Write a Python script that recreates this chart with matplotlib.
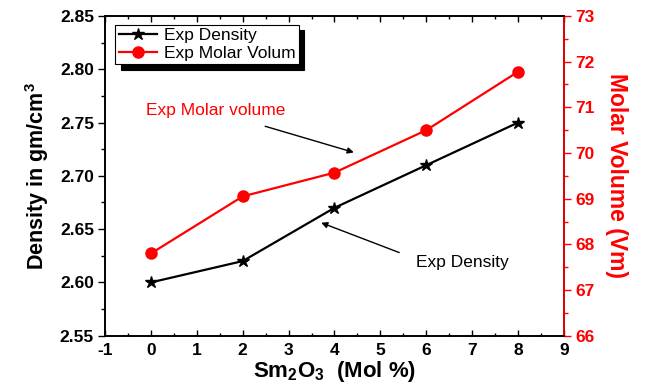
import matplotlib
matplotlib.use("Agg")
import matplotlib.pyplot as plt
from matplotlib.ticker import MultipleLocator

plt.rcParams['font.family'] = ['Liberation Sans', 'DejaVu Sans']
plt.rcParams['mathtext.fontset'] = 'custom'
plt.rcParams['mathtext.rm'] = 'Liberation Sans:bold'
plt.rcParams['mathtext.bf'] = 'Liberation Sans:bold'
plt.rcParams['mathtext.it'] = 'Liberation Sans:bold'
plt.rcParams['mathtext.default'] = 'bf'
plt.rcParams['axes.unicode_minus'] = False

sm2o3 = [0, 2, 4, 6, 8]
density = [2.60, 2.62, 2.67, 2.71, 2.75]
molar_volume = [67.8, 69.05, 69.57, 70.5, 71.78]

fig = plt.figure(figsize=(6.47, 3.87), dpi=100)
ax = fig.add_axes([0.1623, 0.1326, 0.7094, 0.8261])
ax2 = ax.twinx()

l1, = ax.plot(sm2o3, density, color='black', marker='*', markersize=9, lw=1.6,
              label='Exp Density')
l2, = ax2.plot(sm2o3, molar_volume, color='red', marker='o', markersize=8, lw=1.6,
               label='Exp Molar Volum')

ax.set_xlim(-1, 9)
ax.set_ylim(2.55, 2.85)
ax2.set_ylim(66, 73)

ax.xaxis.set_major_locator(MultipleLocator(1))
ax.xaxis.set_minor_locator(MultipleLocator(0.5))
ax.yaxis.set_major_locator(MultipleLocator(0.05))
ax.yaxis.set_minor_locator(MultipleLocator(0.025))
ax2.yaxis.set_major_locator(MultipleLocator(1))
ax2.yaxis.set_minor_locator(MultipleLocator(0.5))

ax.tick_params(axis='x', which='both', direction='in', top=True, labelsize=12.5, pad=5)
ax.tick_params(axis='x', which='major', length=4, width=1)
ax.tick_params(axis='x', which='minor', length=2.5, width=1)
ax.tick_params(axis='y', which='major', direction='out', length=5, width=1,
               labelsize=12.5, pad=3)
ax.tick_params(axis='y', which='minor', direction='out', length=3, width=1)
ax2.tick_params(axis='y', which='major', direction='out', length=5, width=1,
                colors='red', labelsize=12.5, pad=3)
ax2.tick_params(axis='y', which='minor', direction='out', length=3, width=1, colors='red')

for a in (ax, ax2):
    for sp in a.spines.values():
        sp.set_linewidth(1.2)
ax2.spines['right'].set_color('red')
for lab in ax.get_xticklabels() + ax.get_yticklabels() + ax2.get_yticklabels():
    lab.set_fontweight('bold')

ax.set_xlabel(r'Sm$_\mathbf{2}$O$_\mathbf{3}$  (Mol %)', fontsize=16, fontweight='bold',
              labelpad=1)
ax.set_ylabel(r'Density in gm/cm$^\mathbf{3}$', fontsize=15.5, fontweight='bold', labelpad=6)
ax2.set_ylabel('Molar Volume (Vm)', fontsize=16.5, fontweight='bold', color='red',
               rotation=270, labelpad=24)

leg = ax.legend(handles=[l1, l2], loc='upper left', bbox_to_anchor=(0.022, 0.973),
                fontsize=12.5, frameon=True, fancybox=False,
                shadow={'color': 'black', 'alpha': 1, 'ox': 4, 'oy': -4},
                borderpad=0.2, handlelength=2.2, handletextpad=0.4,
                labelspacing=0.15, borderaxespad=0)
leg.get_frame().set_edgecolor('black')
leg.get_frame().set_linewidth(0.8)

ax.text(1.42, 2.7616, 'Exp Molar volume', color='red', fontsize=12.5,
        ha='center', va='center')
ax.annotate('', xy=(4.42, 2.722), xytext=(2.49, 2.7465),
            arrowprops=dict(arrowstyle='-|>', color='black', lw=1, shrinkA=0, shrinkB=0,
                            mutation_scale=9))
ax.annotate('', xy=(3.71, 2.656), xytext=(5.41, 2.628),
            arrowprops=dict(arrowstyle='-|>', color='black', lw=1, shrinkA=0, shrinkB=0,
                            mutation_scale=9))
ax.text(6.78, 2.619, 'Exp Density', fontsize=12.5, ha='center', va='center', color='black')

fig.savefig('out.png', dpi=100)
